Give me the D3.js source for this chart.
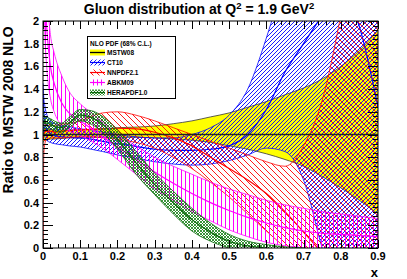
<!DOCTYPE html>
<html>
<head>
<meta charset="utf-8">
<script src="https://cdn.jsdelivr.net/npm/d3@7"></script>
<style>
  body { margin: 0; background: #fff; }
  svg { display: block; font-family: "Liberation Sans", Arial, sans-serif; font-weight: bold; }
</style>
</head>
<body>
<svg id="chart" width="407" height="279"></svg>
<script>
// x grid shared by all bands
const xVals = [0.0005, 0.002, 0.005, 0.01, 0.02, 0.03, 0.05, 0.07, 0.1, 0.13, 0.16, 0.2, 0.25, 0.3, 0.35, 0.4, 0.45, 0.5, 0.55, 0.6, 0.65, 0.7, 0.75, 0.8, 0.85, 0.9];

// MSTW08 (reference, central = 1)
const mstwLo = [0.93, 0.94, 0.95, 0.95, 0.96, 0.96, 0.965, 0.97, 0.97, 0.975, 0.975, 0.975, 0.975, 0.97, 0.96, 0.95, 0.93, 0.90, 0.87, 0.83, 0.78, 0.72, 0.63, 0.53, 0.42, 0.30];
const mstwHi = [1.07, 1.06, 1.055, 1.05, 1.045, 1.04, 1.04, 1.04, 1.04, 1.045, 1.05, 1.06, 1.065, 1.075, 1.095, 1.12, 1.155, 1.19, 1.24, 1.29, 1.35, 1.41, 1.49, 1.60, 1.74, 1.92];

// CT10
const ct10Mid = [1.35, 1.2, 1.1, 1.05, 1.01, 0.99, 0.98, 0.975, 0.97, 0.96, 0.94, 0.92, 0.895, 0.87, 0.86, 0.86, 0.87, 0.9, 1.0, 1.22, 1.55, 1.8, 2.05, 2.3, 1.95, 1.24];
const ct10Lo = [1.1, 1.02, 0.98, 0.95, 0.93, 0.92, 0.91, 0.9, 0.89, 0.87, 0.85, 0.82, 0.79, 0.76, 0.74, 0.73, 0.74, 0.77, 0.82, 0.88, 0.85, 0.6, 0.0, -0.5, -0.5, -0.5];
const ct10Hi = [1.45, 1.33, 1.25, 1.18, 1.12, 1.1, 1.08, 1.07, 1.05, 1.04, 1.02, 1.0, 0.98, 0.97, 0.97, 1.0, 1.06, 1.17, 1.4, 1.85, 2.4, 3, 3.5, 4, 4, 4];

// NNPDF2.1
const nnpdfMid = [0.95, 1.0, 1.02, 1.03, 1.03, 1.02, 1.03, 1.035, 1.04, 1.045, 1.05, 1.055, 1.05, 1.02, 0.97, 0.9, 0.8, 0.7, 0.6, 0.48, 0.32, 0.14, -0.05, -0.3, -0.5, -0.7];
const nnpdfLo = [0.0, 0.8, 0.92, 0.96, 0.97, 0.97, 0.97, 0.975, 0.98, 0.98, 0.97, 0.96, 0.93, 0.88, 0.8, 0.7, 0.58, 0.45, 0.3, 0.15, 0.0, -0.2, -0.5, -0.8, -1, -1];
const nnpdfHi = [1.1, 1.1, 1.09, 1.08, 1.08, 1.08, 1.09, 1.1, 1.12, 1.16, 1.19, 1.2, 1.17, 1.12, 1.06, 1.0, 0.94, 0.88, 0.82, 0.76, 0.72, 0.9, 1.3, 2.05, 3, 4];

// ABKM09
const abkmMid = [3.5, 2.8, 2.3, 1.95, 1.6, 1.45, 1.28, 1.19, 1.12, 1.05, 0.98, 0.89, 0.78, 0.67, 0.57, 0.48, 0.4, 0.33, 0.27, 0.22, 0.18, 0.15, 0.13, 0.12, 0.11, 0.1];
const abkmLo = [3.0, 2.4, 1.9, 1.6, 1.32, 1.2, 1.08, 1.03, 0.99, 0.94, 0.88, 0.78, 0.65, 0.52, 0.42, 0.32, 0.24, 0.16, 0.1, 0.05, 0.02, 0.0, -0.05, -0.1, -0.1, -0.1];
const abkmHi = [4.0, 3.2, 2.7, 2.3, 1.88, 1.72, 1.52, 1.38, 1.27, 1.19, 1.11, 1.0, 0.9, 0.8, 0.72, 0.65, 0.58, 0.52, 0.47, 0.42, 0.38, 0.35, 0.32, 0.3, 0.28, 0.26];

// HERAPDF1.0
const heraMid = [1.12, 1.1, 1.1, 1.1, 1.09, 1.07, 1.06, 1.1, 1.17, 1.15, 1.09, 0.96, 0.75, 0.56, 0.4, 0.25, 0.14, 0.06, 0.02, 0.0, -0.02, -0.05, -0.05, -0.05, -0.05, -0.05];
const heraLo = [1.0, 1.03, 1.05, 1.05, 1.05, 1.03, 1.02, 1.06, 1.12, 1.09, 1.02, 0.87, 0.65, 0.47, 0.3, 0.15, 0.06, 0.0, -0.03, -0.05, -0.1, -0.1, -0.1, -0.1, -0.1, -0.1];
const heraHi = [1.25, 1.18, 1.16, 1.15, 1.14, 1.12, 1.1, 1.15, 1.22, 1.21, 1.16, 1.04, 0.85, 0.66, 0.5, 0.35, 0.22, 0.12, 0.06, 0.03, 0.01, 0.0, -0.02, -0.02, -0.02, -0.02];

const xTicks = [0, 0.1, 0.2, 0.3, 0.4, 0.5, 0.6, 0.7, 0.8, 0.9];
const yTicks = [0, 0.2, 0.4, 0.6, 0.8, 1, 1.2, 1.4, 1.6, 1.8, 2];

const legendItems = [
  { name: "MSTW08", key: "mstw" },
  { name: "CT10", key: "ct10" },
  { name: "NNPDF2.1", key: "nnpdf" },
  { name: "ABKM09", key: "abkm" },
  { name: "HERAPDF1.0", key: "hera" }
];

const svg = d3.select("#chart");
const frame = { left: 43, right: 378, top: 21, bottom: 248 };

const x = d3.scaleLinear().domain([0, 0.9]).range([frame.left, frame.right]);
const y = d3.scaleLinear().domain([0, 2]).range([frame.bottom, frame.top]);

const defs = svg.append("defs");
defs.append("clipPath").attr("id", "plotClip")
  .append("rect")
  .attr("x", frame.left).attr("y", frame.top)
  .attr("width", frame.right - frame.left).attr("height", frame.bottom - frame.top);

function hatch(id, size, color, d, width) {
  defs.append("pattern")
    .attr("id", id)
    .attr("patternUnits", "userSpaceOnUse")
    .attr("width", size).attr("height", size)
    .append("path")
    .attr("d", d)
    .attr("stroke", color)
    .attr("stroke-width", width)
    .attr("fill", "none");
}
hatch("pCT10", 4, "#0000ff", "M-1,1 L1,-1 M0,4 L4,0 M3,5 L5,3", 0.9);
hatch("pNNPDF", 6, "#ff0000", "M-1,5 L1,7 M0,0 L6,6 M5,-1 L7,1", 0.9);
hatch("pABKM", 4, "#ff00ff", "M1.5,0 L1.5,4", 1);
hatch("pHERA", 3, "#0a7a0a", "M0,0 L3,3 M0,3 L3,0", 0.8);

const rows = (lo, hi, mid) => xVals.map((v, i) => ({ x: v, lo: lo[i], hi: hi[i], mid: mid ? mid[i] : 1 }));

const area = d3.area().x(d => x(d.x)).y0(d => y(d.lo)).y1(d => y(d.hi)).curve(d3.curveMonotoneX);
const lineLo = d3.line().x(d => x(d.x)).y(d => y(d.lo)).curve(d3.curveMonotoneX);
const lineHi = d3.line().x(d => x(d.x)).y(d => y(d.hi)).curve(d3.curveMonotoneX);
const lineMid = d3.line().x(d => x(d.x)).y(d => y(d.mid)).curve(d3.curveMonotoneX);

const plot = svg.append("g").attr("clip-path", "url(#plotClip)");

const bands = [
  { key: "mstw", data: rows(mstwLo, mstwHi), fill: "#ffff00", edge: "#333", mid: null },
  { key: "ct10", data: rows(ct10Lo, ct10Hi, ct10Mid), fill: "url(#pCT10)", edge: "#0000ff", mid: "#0000ff" },
  { key: "nnpdf", data: rows(nnpdfLo, nnpdfHi, nnpdfMid), fill: "url(#pNNPDF)", edge: "#ff0000", mid: "#ff0000" },
  { key: "abkm", data: rows(abkmLo, abkmHi, abkmMid), fill: "url(#pABKM)", edge: "#ff00ff", mid: "#ff00ff" },
  { key: "hera", data: rows(heraLo, heraHi, heraMid), fill: "url(#pHERA)", edge: "#0a6a0a", mid: "#0a6a0a" }
];

bands.forEach(b => {
  plot.append("path").datum(b.data).attr("d", area).attr("fill", b.fill).attr("stroke", "none");
  plot.append("path").datum(b.data).attr("d", lineLo).attr("fill", "none").attr("stroke", b.edge).attr("stroke-width", 0.8);
  plot.append("path").datum(b.data).attr("d", lineHi).attr("fill", "none").attr("stroke", b.edge).attr("stroke-width", 0.8);
  if (b.mid) {
    plot.append("path").datum(b.data).attr("d", lineMid).attr("fill", "none").attr("stroke", b.mid).attr("stroke-width", 1.2);
  }
});

// MSTW central line on top
plot.append("line")
  .attr("x1", x(0)).attr("x2", x(0.9)).attr("y1", y(1)).attr("y2", y(1))
  .attr("stroke", "#222").attr("stroke-width", 1.3);

// frame
svg.append("rect")
  .attr("x", frame.left).attr("y", frame.top)
  .attr("width", frame.right - frame.left).attr("height", frame.bottom - frame.top)
  .attr("fill", "none").attr("stroke", "#000").attr("stroke-width", 1);

// ticks (ROOT style, inside, on all four sides)
const ax = svg.append("g").attr("stroke", "#000").attr("stroke-width", 1);
d3.range(0, 46).forEach(i => {
  const v = i * 0.02;
  const major = i % 5 === 0;
  const len = major ? 8 : 4;
  const px = Math.round(x(v)) + 0.5;
  ax.append("line").attr("x1", px).attr("x2", px).attr("y1", frame.bottom).attr("y2", frame.bottom - len);
  ax.append("line").attr("x1", px).attr("x2", px).attr("y1", frame.top).attr("y2", frame.top + len);
});
d3.range(0, 51).forEach(i => {
  const v = i * 0.04;
  const major = i % 5 === 0;
  const len = major ? 10 : 5;
  const py = Math.round(y(v)) + 0.5;
  ax.append("line").attr("x1", frame.left).attr("x2", frame.left + len).attr("y1", py).attr("y2", py);
  ax.append("line").attr("x1", frame.right).attr("x2", frame.right - len).attr("y1", py).attr("y2", py);
});

// tick labels
svg.append("g").selectAll("text").data(xTicks).join("text")
  .attr("x", d => x(d)).attr("y", 260)
  .attr("text-anchor", "middle").attr("font-size", 11)
  .text(d => d3.format("")(d));
svg.append("g").selectAll("text").data(yTicks).join("text")
  .attr("x", 39).attr("y", d => y(d) + 4)
  .attr("text-anchor", "end").attr("font-size", 11)
  .text(d => d3.format("")(d));

// titles
const title = svg.append("text")
  .attr("x", 199).attr("y", 14).attr("text-anchor", "middle").attr("font-size", 14);
title.append("tspan").text("Gluon distribution at Q");
title.append("tspan").attr("dy", -5).attr("font-size", 9.5).text("2");
title.append("tspan").attr("dy", 5).text(" = 1.9 GeV");
title.append("tspan").attr("dy", -5).attr("font-size", 9.5).text("2");

svg.append("text")
  .attr("transform", "translate(13,110) rotate(-90)")
  .attr("text-anchor", "middle").attr("font-size", 14)
  .text("Ratio to MSTW 2008 NLO");

svg.append("text")
  .attr("x", 378).attr("y", 277).attr("text-anchor", "end").attr("font-size", 13)
  .text("x");

// legend
const lg = svg.append("g");
lg.append("rect").attr("x", 87.5).attr("y", 36.5).attr("width", 88).attr("height", 62)
  .attr("fill", "#fff").attr("stroke", "#000").attr("stroke-width", 1);
lg.append("text").attr("x", 90).attr("y", 45.5).attr("font-size", 6.5).text("NLO PDF (68% C.L.)");
legendItems.forEach((it, i) => {
  const cy = 52.5 + i * 10;
  const b = bands.find(d => d.key === it.key);
  lg.append("rect").attr("x", 90).attr("y", cy - 3).attr("width", 15).attr("height", 6)
    .attr("fill", b.fill);
  if (it.key === "mstw") {
    lg.append("line").attr("x1", 90).attr("x2", 105).attr("y1", cy).attr("y2", cy)
      .attr("stroke", "#000").attr("stroke-width", 1.3);
  } else {
    lg.append("line").attr("x1", 90).attr("x2", 105).attr("y1", cy).attr("y2", cy)
      .attr("stroke", b.mid).attr("stroke-width", 1.2);
  }
  lg.append("text").attr("x", 107).attr("y", cy + 2.5).attr("font-size", 6.5).text(it.name);
});
</script>
</body>
</html>
